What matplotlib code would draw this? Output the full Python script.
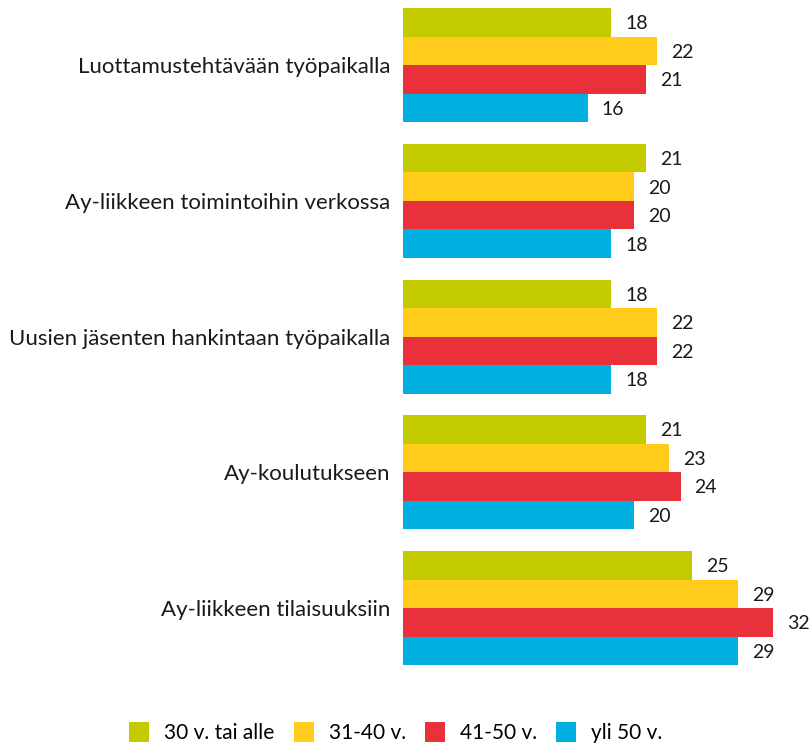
import matplotlib.pyplot as plt
from matplotlib.lines import Line2D
import numpy as np

plt.rcParams['font.family'] = ['Lato', 'DejaVu Sans']

categories = ["Luottamustehtävään työpaikalla",
              "Ay-liikkeen toimintoihin verkossa",
              "Uusien jäsenten hankintaan työpaikalla",
              "Ay-koulutukseen",
              "Ay-liikkeen tilaisuuksiin"]
series_names = ["30 v. tai alle", "31-40 v.", "41-50 v.", "yli 50 v."]
values = [
    [18, 21, 18, 21, 25],   # 30 v. tai alle
    [22, 20, 22, 23, 29],   # 31-40 v.
    [21, 20, 22, 24, 32],   # 41-50 v.
    [16, 18, 18, 20, 29],   # yli 50 v.
]
colors = ["#C3CB00", "#FFCC1B", "#E8313A", "#00B0E0"]

fig = plt.figure(figsize=(8.11, 7.47), dpi=100)
ax = fig.add_axes([0.497, 0.0897, 0.499, 0.910])

bar_h = 0.21
y = np.arange(len(categories))
for k, (name, vals, c) in enumerate(zip(series_names, values, colors)):
    pos = y + (k - 1.5) * bar_h
    ax.barh(pos, vals, height=bar_h, color=c, label=name)
    for p, v in zip(pos, vals):
        ax.text(v + 1.2, p + 0.01, str(v), va='center', ha='left', fontsize=14, color='#1a1a1a')

ax.set_xlim(0, 35)
ax.set_ylim(4.530, -0.479)
ax.set_yticks(y)
ax.set_yticklabels(categories, fontsize=16, color='#1a1a1a')
ax.tick_params(axis='y', length=0, pad=9)
ax.set_xticks([])
for s in ax.spines.values():
    s.set_visible(False)

# square legend markers, about 20 px wide
handles = [Line2D([], [], marker='s', linestyle='none', markersize=15,
                  markeredgewidth=0, color=c, label=n)
           for n, c in zip(series_names, colors)]
fig.legend(handles=handles, loc='center', bbox_to_anchor=(0.488, 0.019), ncol=4,
           frameon=False, fontsize=15, handlelength=1.0,
           handletextpad=0.7, columnspacing=0.9)

fig.savefig("out.png", dpi=100)
